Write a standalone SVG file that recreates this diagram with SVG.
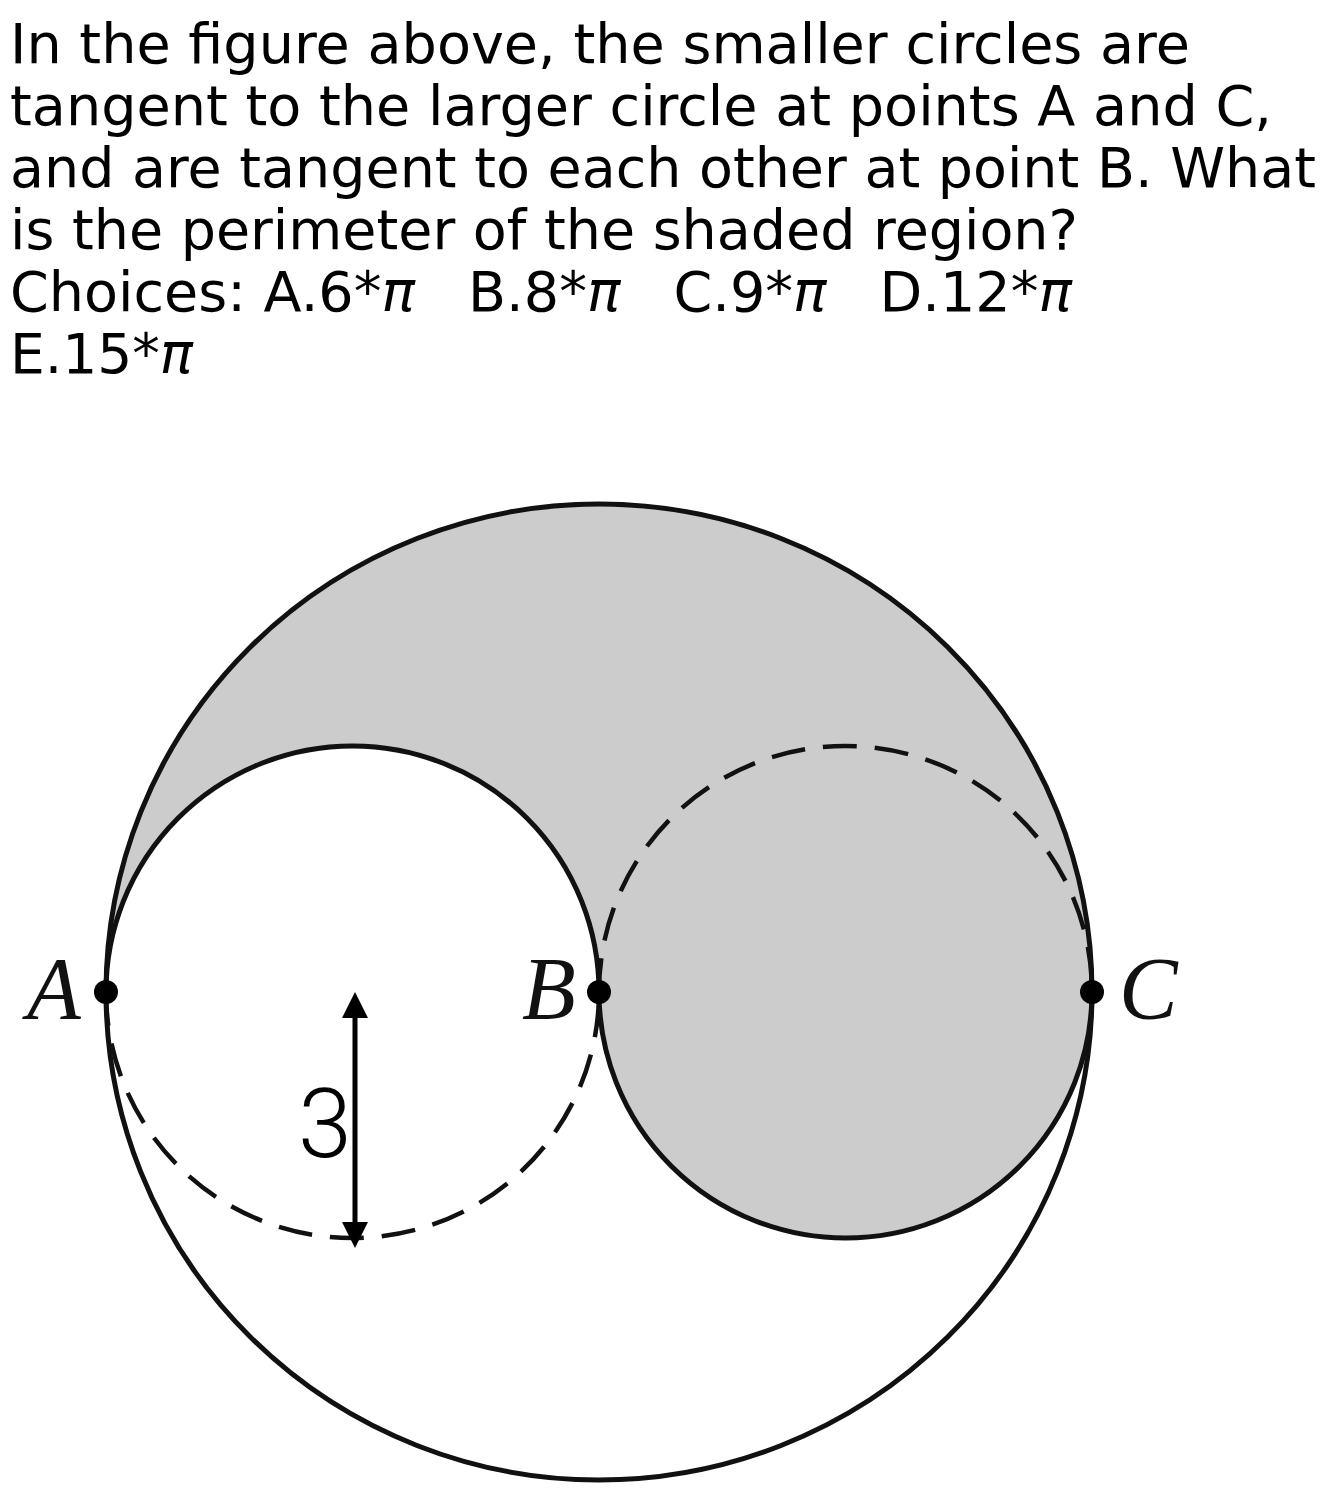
<svg xmlns="http://www.w3.org/2000/svg" width="1327" height="1504" viewBox="0 0 1327 1504">
<style>
.q{font-family:"DejaVu Sans",sans-serif;font-size:56px;fill:#000}
.pi{font-style:italic}
.lbl{font-family:"Liberation Serif",serif;font-style:italic;font-size:88px;fill:#111}
.ln{fill:none;stroke:#111;stroke-width:5}
.dash{fill:none;stroke:#111;stroke-width:4.5;stroke-dasharray:34 18}
.dot{fill:#000}
</style>
<rect width="1327" height="1504" fill="#fff"/>
<g id="question">
<text class="q" x="10" y="63" textLength="1180" lengthAdjust="spacingAndGlyphs">In the figure above, the smaller circles are</text>
<text class="q" x="10" y="125" textLength="1262" lengthAdjust="spacingAndGlyphs">tangent to the larger circle at points A and C,</text>
<text class="q" x="10" y="187" textLength="1306" lengthAdjust="spacingAndGlyphs">and are tangent to each other at point B. What</text>
<text class="q" x="10" y="249" textLength="1068" lengthAdjust="spacingAndGlyphs">is the perimeter of the shaded region?</text>
<text class="q" x="10" y="311" xml:space="preserve" textLength="1062" lengthAdjust="spacingAndGlyphs">Choices: A.6*<tspan class="pi">π</tspan>   B.8*<tspan class="pi">π</tspan>   C.9*<tspan class="pi">π</tspan>   D.12*<tspan class="pi">π</tspan></text>
<text class="q" x="10" y="373" textLength="183" lengthAdjust="spacingAndGlyphs">E.15*<tspan class="pi">π</tspan></text>
</g>
<g id="shaded">
<path d="M106 992 A493 488 0 0 1 1092 992 A246.5 246 0 0 1 599 992 A246.5 246 0 0 0 106 992 Z" fill="#cccccc"/>
</g>
<g id="connectors">
<ellipse class="ln" cx="599" cy="992" rx="493" ry="488"/>
<path class="ln" d="M106 992 A246.5 246 0 0 1 599 992"/>
<path class="dash" d="M106 992 A246.5 246 0 0 0 599 992"/>
<path class="ln" d="M1092 992 A246.5 246 0 0 1 599 992"/>
<path class="dash" d="M599 992 A246.5 246 0 0 1 1092 992"/>
<line x1="355" y1="1012" x2="355" y2="1228" stroke="#000" stroke-width="5"/>
<polygon points="355,992 342,1018 368,1018" fill="#000"/>
<polygon points="355,1248 342,1222 368,1222" fill="#000"/>
</g>
<g id="pointA"><circle class="dot" cx="106" cy="992" r="12"/><text class="lbl" x="27" y="1018">A</text></g>
<g id="pointB"><circle class="dot" cx="599" cy="992" r="12"/><text class="lbl" x="522" y="1018">B</text></g>
<g id="pointC"><circle class="dot" cx="1092" cy="992" r="12"/><text class="lbl" x="1119" y="1018">C</text></g>
<g id="radiusLabel"><text x="298" y="1157" style="font-family:Roboto,'Liberation Sans',sans-serif;font-weight:300;font-size:97px;fill:#000">3</text></g>
</svg>
